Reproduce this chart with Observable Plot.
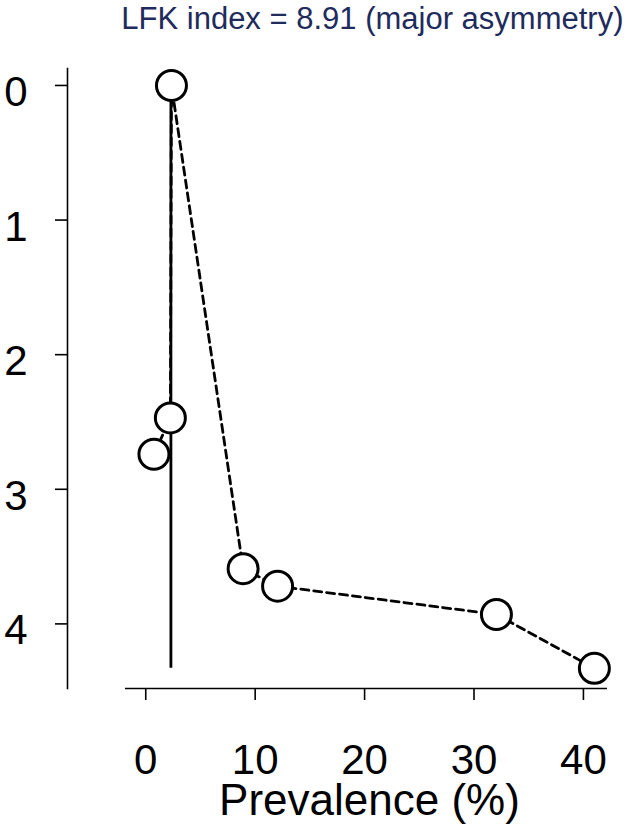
<!DOCTYPE html>
<html>
<head>
<meta charset="utf-8">
<script src="https://cdn.jsdelivr.net/npm/d3@7"></script>
<script src="https://cdn.jsdelivr.net/npm/@observablehq/plot@0.6"></script>
<style>
  html, body { margin: 0; padding: 0; background: #fff; }
</style>
</head>
<body>
<div id="chart"></div>
<script>
// Study prevalence (%) and Doi plot |Z-score|
const prevalence = [0.75, 2.25, 2.35, 8.9, 12.05, 32.05, 41.0];
const doiZ       = [2.74, 2.47, 0.0, 3.59, 3.72, 3.93, 4.33];
const refLineX = 2.3;

const xTicks = [0, 10, 20, 30, 40];
const yTicks = [0, 1, 2, 3, 4];
const xLimits = [-1.85, 42.2];
const yLimits = [-0.126, 4.48];

const titleText = "LFK index = 8.91 (major asymmetry)";
const xLabel = "Prevalence (%)";

const data = prevalence.map((p, i) => ({p, z: doiZ[i]})).sort((a, b) => a.p - b.p);
const zMax = d3.max(doiZ);
const xMid = (xLimits[0] + xLimits[1]) / 2;

const font = "'Liberation Sans', Arial, Helvetica, sans-serif";
const fmt = d3.format("d");

const chart = Plot.plot({
  width: 630,
  height: 828,
  marginLeft: 67,
  marginRight: 10,
  marginTop: 68,
  marginBottom: 140,
  style: {fontFamily: font, fontSize: "42px", color: "#000", background: "#fff"},
  x: {domain: xLimits, range: [125, 607], label: null},
  y: {domain: yLimits, range: [68, 688], label: null},
  marks: [
    Plot.frame({anchor: "left", stroke: "#000", strokeWidth: 1.6}),
    Plot.ruleY([yLimits[1]], {x1: xLimits[0], x2: xLimits[1], stroke: "#000", strokeWidth: 1.6}),
    Plot.axisY({ticks: yTicks, tickSize: 12, fill: "none", strokeWidth: 1.6, anchor: "left"}),
    Plot.axisY({ticks: yTicks, tickSize: 12, tickPadding: 28, stroke: "none", tickFormat: fmt, fontSize: 42, dy: 7, anchor: "left"}),
    Plot.axisX({ticks: xTicks, tickSize: 12, tickPadding: 44, tickFormat: fmt, fontSize: 42, strokeWidth: 1.6, anchor: "bottom"}),
    Plot.ruleX([refLineX], {y1: 0, y2: zMax, stroke: "#000", strokeWidth: 2.8}),
    Plot.line(data, {x: "p", y: "z", stroke: "#000", strokeWidth: 2.8, strokeDasharray: "8,5"}),
    Plot.dot(data, {x: "p", y: "z", r: 15, fill: "#fff", stroke: "#000", strokeWidth: 3}),
    Plot.text([titleText], {frameAnchor: "top-right", text: d => d, dx: 3, dy: -62, lineAnchor: "top", textAnchor: "end", fontSize: 31, fill: "#1e2b5c"}),
    Plot.text([xLabel], {x: () => xMid, frameAnchor: "bottom", text: d => d, dx: 3, dy: 112, lineAnchor: "middle", textAnchor: "middle", fontSize: 44, fill: "#000"})
  ]
});
document.getElementById("chart").appendChild(chart);
</script>
</body>
</html>
